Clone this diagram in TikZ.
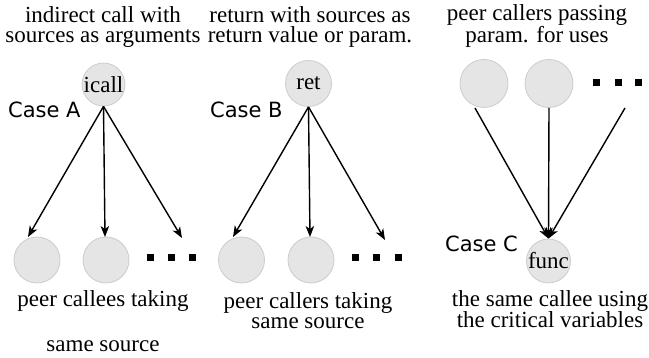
\documentclass[tikz,border=0pt]{standalone}
\usepackage{fontspec}
\setmainfont{Liberation Serif}
\newfontfamily\casefont{DejaVu Sans}
\usetikzlibrary{arrows.meta}
\begin{document}
\begin{tikzpicture}[x=1pt,y=-1pt,
  txt/.style={inner sep=0pt,align=center,anchor=base,font=\rmfamily\fontsize{23}{20}\selectfont},
  casel/.style={inner sep=0pt,anchor=base west,font=\casefont\fontsize{21}{24}\selectfont},
  vtx/.style={circle,draw=gray!40,fill=gray!20,line width=0.8pt,inner sep=0pt,font=\rmfamily\fontsize{23}{20}\selectfont},
  dotsq/.style={fill=black,minimum size=7pt,inner sep=0pt},
  arr/.style={line width=1.4pt,-{Stealth[length=11pt,width=8.5pt,inset=3pt]}}]
\useasboundingbox (0,0) rectangle (649,358);
% Case A
\node[txt] (ta) at (103,43) {indirect call with\\sources as arguments};
\node[vtx,minimum size=43pt] (icall) at (103.5,84.5) {icall};
\node[casel] (ca) at (8,118) {Case A};
\node[vtx,minimum size=46pt] (a1) at (37,260) {};
\node[vtx,minimum size=46pt] (a2) at (106,260) {};
\node[dotsq] (ad1) at (150,257.5) {};
\node[dotsq] (ad2) at (171.5,257.5) {};
\node[dotsq] (ad3) at (192.5,257.5) {};
\coordinate (ea1) at (28,237);
\coordinate (ea2) at (105,237);
\coordinate (ea3) at (182,238);
\draw[arr] (icall.south) -- (ea1);
\draw[arr] (icall.south) -- (ea2);
\draw[arr] (icall.south) -- (ea3);
\node[txt] (la1) at (103,307) {peer callees taking};
\node[txt] (la2) at (103,352) {same source};
% Case B
\node[txt] (tb) at (310,43) {return with sources as\\return value or param.};
\node[vtx,minimum size=46pt] (ret) at (308.5,83.5) {ret};
\node[casel] (cb) at (210,118) {Case B};
\node[vtx,minimum size=46pt] (b1) at (241.5,260) {};
\node[vtx,minimum size=46pt] (b2) at (311,260) {};
\node[dotsq] (bd1) at (355,257.5) {};
\node[dotsq] (bd2) at (376.5,257.5) {};
\node[dotsq] (bd3) at (398.5,257.5) {};
\coordinate (eb1) at (233,237);
\coordinate (eb2) at (310,237);
\coordinate (eb3) at (385,240);
\draw[arr] (ret.south) -- (eb1);
\draw[arr] (ret.south) -- (eb2);
\draw[arr] (ret.south) -- (eb3);
\node[txt] (lb) at (308,329) {peer callers taking\\same source};
% Case C
\node[txt] (tc) at (537,43) {peer callers passing\\param. for uses};
\node[vtx,minimum size=48pt] (c1) at (484,83.5) {};
\node[vtx,minimum size=48pt] (c2) at (549,83.5) {};
\node[dotsq] (cd1) at (596.5,82.5) {};
\node[dotsq] (cd2) at (618.5,82.5) {};
\node[dotsq] (cd3) at (638.5,82.5) {};
\node[vtx,minimum size=44pt] (func) at (548.5,261) {func};
\node[casel] (cc) at (445,252) {Case C};
\coordinate (sc1) at (475,108);
\coordinate (sc2) at (549,108);
\coordinate (sc3) at (625,108);
\draw[arr] (sc1) -- (func.north);
\draw[arr] (sc2) -- (func.north);
\draw[arr] (sc3) -- (func.north);
\node[txt] (lc) at (550,328) {the same callee using\\the critical variables};
\end{tikzpicture}
\end{document}
